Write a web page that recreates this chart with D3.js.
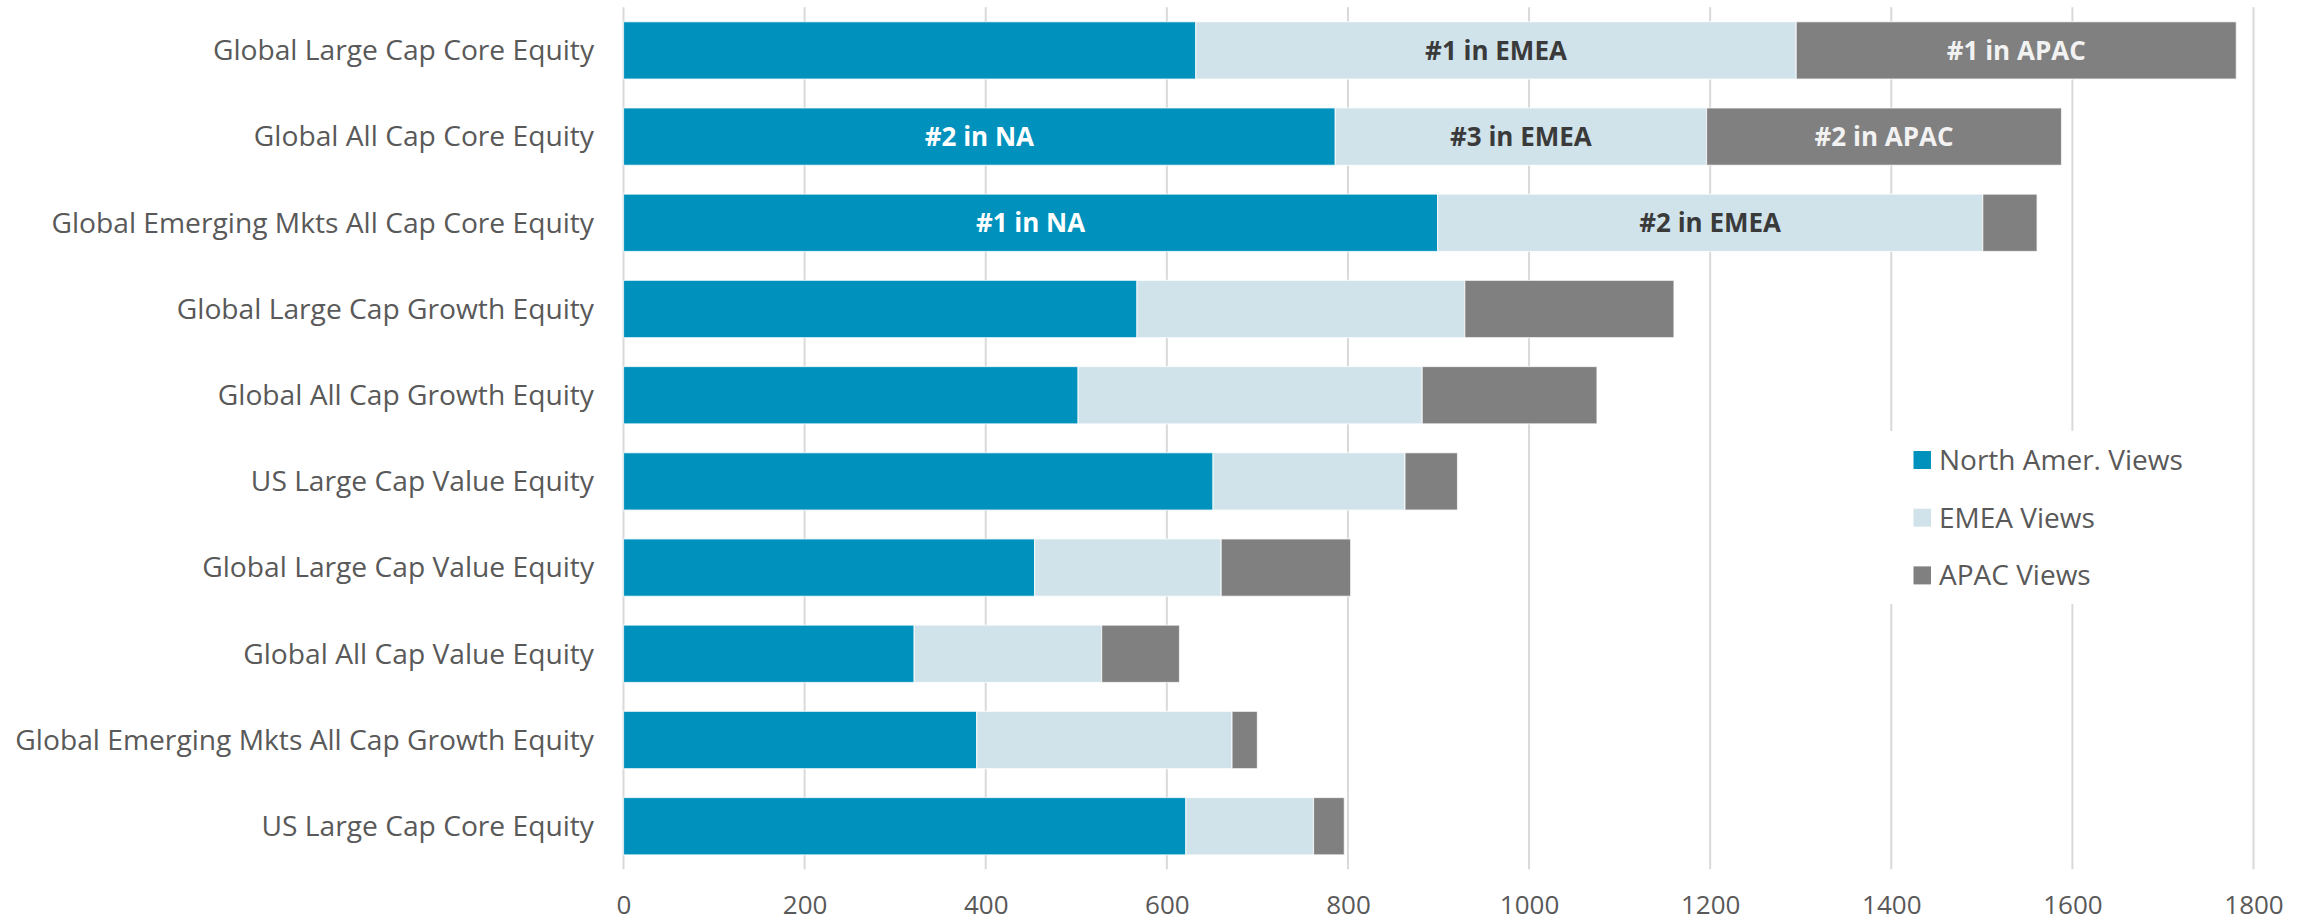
<!DOCTYPE html>
<html>
<head>
<meta charset="utf-8">
<script src="https://cdn.jsdelivr.net/npm/d3@7"></script>
<style>
  html, body { margin: 0; padding: 0; background: #fff; }
  svg { display: block; }
</style>
</head>
<body>
<svg id="chart" width="2318" height="924"></svg>
<script>
const categories = [
  "Global Large Cap Core Equity",
  "Global All Cap Core Equity",
  "Global Emerging Mkts All Cap Core Equity",
  "Global Large Cap Growth Equity",
  "Global All Cap Growth Equity",
  "US Large Cap Value Equity",
  "Global Large Cap Value Equity",
  "Global All Cap Value Equity",
  "Global Emerging Mkts All Cap Growth Equity",
  "US Large Cap Core Equity"
];
const seriesNames = ["North Amer. Views", "EMEA Views", "APAC Views"];
const naViews   = [632, 786, 899, 567, 502, 651, 454, 321, 390, 621];
const emeaViews = [663, 410, 602, 362, 380, 212, 206, 207, 282, 141];
const apacViews = [486, 392, 60, 231, 193, 58, 143, 86, 28, 34];
const naLabels   = ["", "#2 in NA", "#1 in NA", "", "", "", "", "", "", ""];
const emeaLabels = ["#1 in EMEA", "#3 in EMEA", "#2 in EMEA", "", "", "", "", "", "", ""];
const apacLabels = ["#1 in APAC", "#2 in APAC", "", "", "", "", "", "", "", ""];
const xTicks = [0, 200, 400, 600, 800, 1000, 1200, 1400, 1600, 1800];

const colors = ["#0091BD", "#D0E3EB", "#808080"];
const labelColors = ["#ffffff", "#3a3a3a", "#f2f2f2"];
const FONT = "'Open Sans', sans-serif";

const rows = categories.map((c, i) => ({
  cat: c, values: [naViews[i], emeaViews[i], apacViews[i]],
  labels: [naLabels[i], emeaLabels[i], apacLabels[i]]
}));

const svg = d3.select("#chart");
const x = d3.scaleLinear().domain([0, 1800]).range([623.5, 2253.5]);
const y = d3.scaleBand().domain(categories).range([7.3, 869.3])
  .paddingInner(0.335).paddingOuter(0.1675);

// gridlines
svg.append("g").selectAll("line").data(xTicks).join("line")
  .attr("x1", d => x(d)).attr("x2", d => x(d))
  .attr("y1", 7.3).attr("y2", 869.3)
  .attr("stroke", "#d9d9d9").attr("stroke-width", 2);

// x axis labels
const xAxis = d3.axisBottom(x).tickValues(xTicks).tickFormat(d3.format("d")).tickSize(0).tickPadding(0);
const gx = svg.append("g").attr("transform", "translate(0,869.3)").call(xAxis);
gx.select(".domain").remove();
gx.selectAll("text")
  .attr("y", 36).attr("dy", "0.35em")
  .attr("fill", "#595959").style("font-family", FONT).style("font-size", "26px");

// stacked bars
const stackData = rows.map(r => {
  let acc = 0;
  return r.values.map((v, k) => {
    const s = { cat: r.cat, k, x0: acc, x1: acc + v, label: r.labels[k] };
    acc += v;
    return s;
  });
});
const segs = stackData.flat();
svg.append("g").selectAll("rect").data(segs).join("rect")
  .attr("x", d => x(d.x0)).attr("width", d => x(d.x1) - x(d.x0))
  .attr("y", d => y(d.cat)).attr("height", y.bandwidth())
  .attr("fill", d => colors[d.k])
  .attr("stroke", "#ffffff").attr("stroke-width", 1.2).attr("stroke-opacity", 0.7);

svg.append("g").selectAll("text").data(segs.filter(d => d.label)).join("text")
  .attr("x", d => (x(d.x0) + x(d.x1)) / 2)
  .attr("y", d => y(d.cat) + y.bandwidth() / 2)
  .attr("dy", "0.36em")
  .attr("text-anchor", "middle")
  .attr("fill", d => labelColors[d.k])
  .style("font-family", FONT).style("font-weight", "700").style("font-size", "26px")
  .text(d => d.label);

// category labels
const gy = svg.append("g");
const catText = gy.selectAll("text").data(categories).join("text")
  .attr("x", 594).attr("y", d => y(d) + y.bandwidth() / 2).attr("dy", "0.35em")
  .attr("text-anchor", "end").attr("fill", "#595959")
  .style("font-family", FONT).style("font-size", "26px")
  .text(d => d);
let maxW = 0;
catText.each(function() { maxW = Math.max(maxW, this.getComputedTextLength()); });
const fs = 26 * 579 / maxW;
catText.style("font-size", fs + "px");

// legend
const lg = svg.append("g");
lg.append("rect").attr("x", 1880).attr("y", 431).attr("width", 340).attr("height", 173).attr("fill", "#fff");
const legendY = [460, 517.7, 575.4];
seriesNames.forEach((name, k) => {
  lg.append("rect").attr("x", 1913.5).attr("y", legendY[k] - 9).attr("width", 17.5).attr("height", 18)
    .attr("fill", colors[k]);
  lg.append("text").attr("x", 1939).attr("y", legendY[k]).attr("dy", "0.35em")
    .attr("fill", "#595959").style("font-family", FONT).style("font-size", "28px")
    .text(name);
});
</script>
</body>
</html>
